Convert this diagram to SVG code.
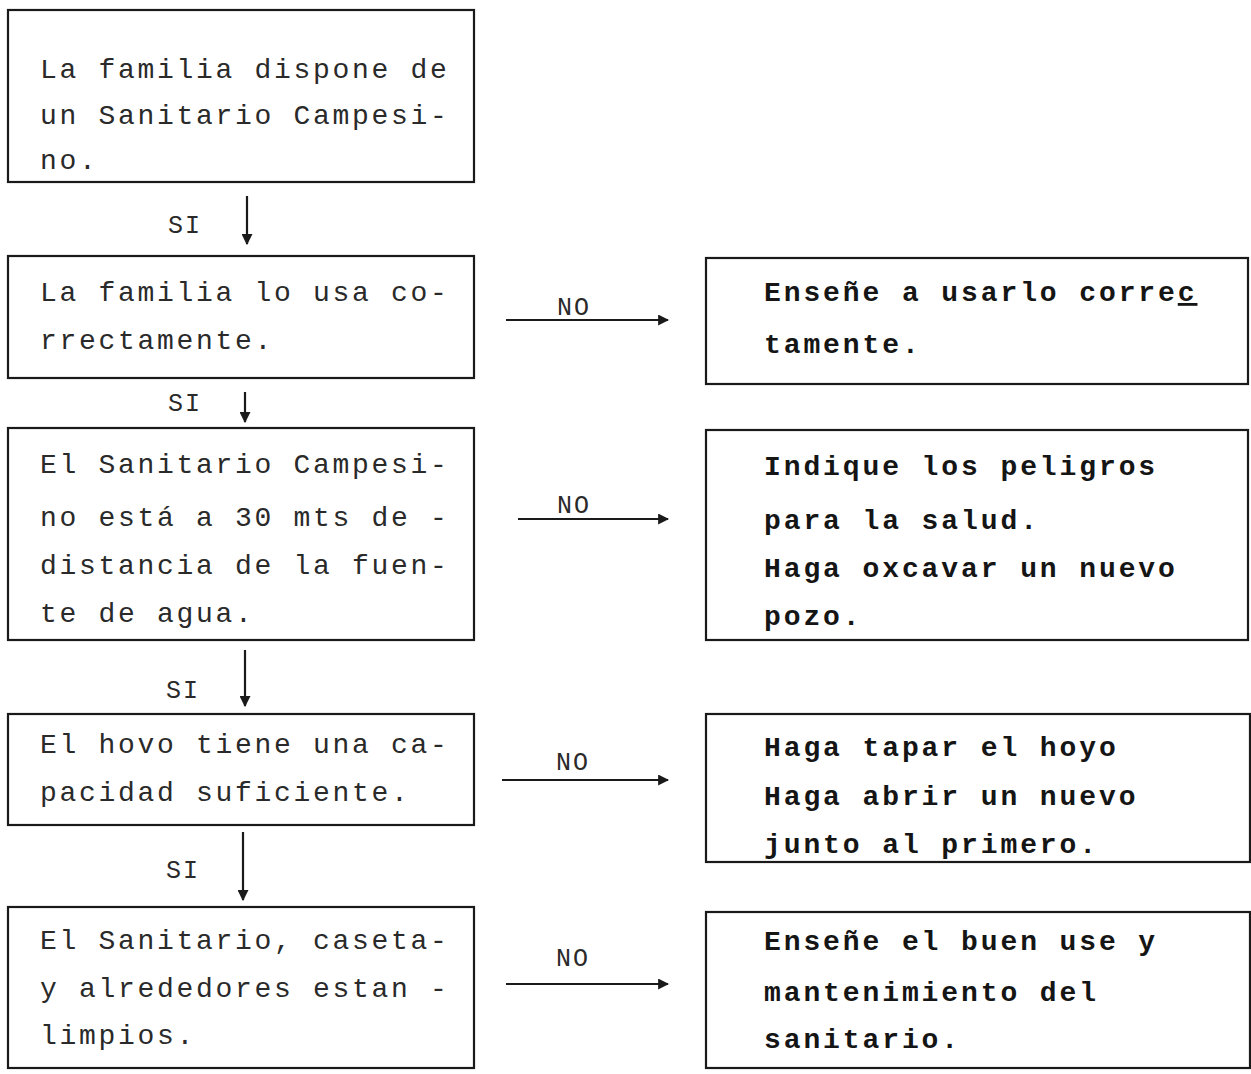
<svg xmlns="http://www.w3.org/2000/svg" width="1251" height="1074" viewBox="0 0 1251 1074">
<defs>
<style>
.box{fill:none;stroke:#1a1a1a;stroke-width:2.2}
.lt{font-family:"Liberation Mono","Courier New",monospace;font-size:28px;letter-spacing:2.7px;fill:#2a2a2a}
.rt{font-family:"Liberation Mono","Courier New",monospace;font-size:28px;font-weight:bold;letter-spacing:2.9px;fill:#151515}
.lbl{font-family:"Liberation Mono","Courier New",monospace;font-size:25px;letter-spacing:2px;fill:#2a2a2a}
.con{fill:none;stroke:#1a1a1a;stroke-width:2.2}
</style>
<marker id="ah" viewBox="0 0 10 10" refX="9" refY="5" markerWidth="5" markerHeight="5" orient="auto" markerUnits="strokeWidth">
<path d="M0,0 L10,5 L0,10 z" fill="#1a1a1a"/>
</marker>
</defs>
<rect width="1251" height="1074" fill="#ffffff"/>

<g id="connectors">
<line class="con" x1="247" y1="196" x2="247" y2="244" marker-end="url(#ah)"/>
<line class="con" x1="245" y1="392" x2="245" y2="422" marker-end="url(#ah)"/>
<line class="con" x1="245" y1="650" x2="245" y2="706" marker-end="url(#ah)"/>
<line class="con" x1="243" y1="832" x2="243" y2="900" marker-end="url(#ah)"/>
<line class="con" x1="506" y1="320" x2="668" y2="320" marker-end="url(#ah)"/>
<line class="con" x1="518" y1="519" x2="668" y2="519" marker-end="url(#ah)"/>
<line class="con" x1="502" y1="780" x2="668" y2="780" marker-end="url(#ah)"/>
<line class="con" x1="506" y1="984" x2="668" y2="984" marker-end="url(#ah)"/>
<text class="lbl" x="168" y="233">SI</text>
<text class="lbl" x="168" y="411">SI</text>
<text class="lbl" x="166" y="698">SI</text>
<text class="lbl" x="166" y="878">SI</text>
<text class="lbl" x="557" y="315">NO</text>
<text class="lbl" x="557" y="513">NO</text>
<text class="lbl" x="556" y="770">NO</text>
<text class="lbl" x="556" y="966">NO</text>
</g>

<g id="q1">
<rect class="box" x="8" y="10" width="466" height="172"/>
<text class="lt" x="40" y="78">La familia dispone de</text>
<text class="lt" x="40" y="124">un Sanitario Campesi-</text>
<text class="lt" x="40" y="169">no.</text>
</g>

<g id="q2">
<rect class="box" x="8" y="256" width="466" height="122"/>
<text class="lt" x="40" y="301">La familia lo usa co-</text>
<text class="lt" x="40" y="349">rrectamente.</text>
</g>

<g id="a1">
<rect class="box" x="706" y="258" width="542" height="126"/>
<text class="rt" x="764" y="301">Enseñe a usarlo corre<tspan text-decoration="underline">c</tspan></text>
<text class="rt" x="764" y="353">tamente.</text>
</g>

<g id="q3">
<rect class="box" x="8" y="428" width="466" height="212"/>
<text class="lt" x="40" y="473">El Sanitario Campesi-</text>
<text class="lt" x="40" y="526">no está a 30 mts de -</text>
<text class="lt" x="40" y="574">distancia de la fuen-</text>
<text class="lt" x="40" y="622">te de agua.</text>
</g>

<g id="a2">
<rect class="box" x="706" y="430" width="542" height="210"/>
<text class="rt" x="764" y="475">Indique los peligros</text>
<text class="rt" x="764" y="529">para la salud.</text>
<text class="rt" x="764" y="577">Haga oxcavar un nuevo</text>
<text class="rt" x="764" y="625">pozo.</text>
</g>

<g id="q4">
<rect class="box" x="8" y="714" width="466" height="111"/>
<text class="lt" x="40" y="753">El hovo tiene una ca-</text>
<text class="lt" x="40" y="801">pacidad suficiente.</text>
</g>

<g id="a3">
<rect class="box" x="706" y="714" width="544" height="148"/>
<text class="rt" x="764" y="756">Haga tapar el hoyo</text>
<text class="rt" x="764" y="805">Haga abrir un nuevo</text>
<text class="rt" x="764" y="853">junto al primero.</text>
</g>

<g id="q5">
<rect class="box" x="8" y="907" width="466" height="161"/>
<text class="lt" x="40" y="949">El Sanitario, caseta-</text>
<text class="lt" x="40" y="997">y alrededores estan -</text>
<text class="lt" x="40" y="1044">limpios.</text>
</g>

<g id="a4">
<rect class="box" x="706" y="912" width="544" height="156"/>
<text class="rt" x="764" y="950">Enseñe el buen use y</text>
<text class="rt" x="764" y="1001">mantenimiento del</text>
<text class="rt" x="764" y="1048">sanitario.</text>
</g>
</svg>
